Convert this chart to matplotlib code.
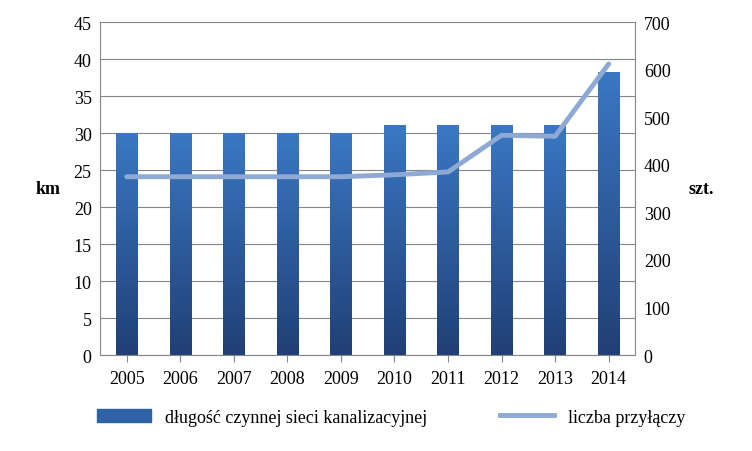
import matplotlib
matplotlib.use("Agg")
import matplotlib.pyplot as plt
import numpy as np
from matplotlib.patches import Rectangle
from matplotlib.lines import Line2D

years = ["2005","2006","2007","2008","2009","2010","2011","2012","2013","2014"]
length_km = [30, 30, 30, 30, 30, 31.1, 31.1, 31.1, 31.1, 38.3]
connections = [375, 375, 375, 375, 375, 379, 385, 462, 460, 612]

plt.rcParams["font.family"] = "Liberation Serif"
fig = plt.figure(figsize=(7.52, 4.52), dpi=100)
ax = fig.add_axes([0.133, 0.212, 0.712, 0.737])
ax2 = ax.twinx()

x = np.arange(len(years))
bars = ax.bar(x, length_km, width=0.4, color="#2e63a8", zorder=2)
grad = np.linspace(0, 1, 256).reshape(-1, 1)
from matplotlib.colors import LinearSegmentedColormap
cmap = LinearSegmentedColormap.from_list("g", ["#213f75", "#3a78c4"])
for b in bars:
    bx, by, bw, bh = b.get_x(), b.get_y(), b.get_width(), b.get_height()
    im = ax.imshow(grad, extent=[bx, bx + bw, by, by + bh], origin="lower",
                   aspect="auto", cmap=cmap, zorder=2)
    im.set_clip_path(b)
ax.set_xlim(-0.5, len(years) - 0.5)
ax.set_ylim(0, 45)
ax.set_yticks(range(0, 46, 5))
ax.set_xticks(x)
ax.set_xticklabels(years)
ax.grid(axis="y", color="#868686", linewidth=0.8, zorder=0)
ax.set_axisbelow(True)

ax2.plot(x, connections, color="#8ea9d3", linewidth=3.5, solid_capstyle="round", zorder=3)
ax2.set_ylim(0, 700)
ax2.set_yticks(range(0, 701, 100))

for a in (ax, ax2):
    a.tick_params(labelsize=13, length=0, pad=6)
    for s in a.spines.values():
        s.set_visible(False)
ax.tick_params(axis="x", length=5, color="#868686")
ax.spines["bottom"].set_visible(True)
ax.spines["bottom"].set_color("#868686")
ax.spines["left"].set_visible(True); ax.spines["left"].set_color("#868686")
ax2.spines["right"].set_visible(True); ax2.spines["right"].set_color("#868686")

ax.set_ylabel("km", fontsize=13, fontweight="bold", rotation=0, labelpad=18, va="center")
ax2.set_ylabel("szt.", fontsize=13, fontweight="bold", rotation=0, labelpad=22, va="center")

handles = [Rectangle((0, 0), 1, 1, color="#2e63a8"),
           Line2D([0], [0], color="#8ea9d3", linewidth=3.5)]
fig.legend(handles, ["długość czynnej sieci kanalizacyjnej", "liczba przyłączy"],
           loc="lower center", bbox_to_anchor=(0.52, 0.02), ncol=2, frameon=False,
           fontsize=13, columnspacing=4, handlelength=3)
fig.savefig("out.png", dpi=100)
